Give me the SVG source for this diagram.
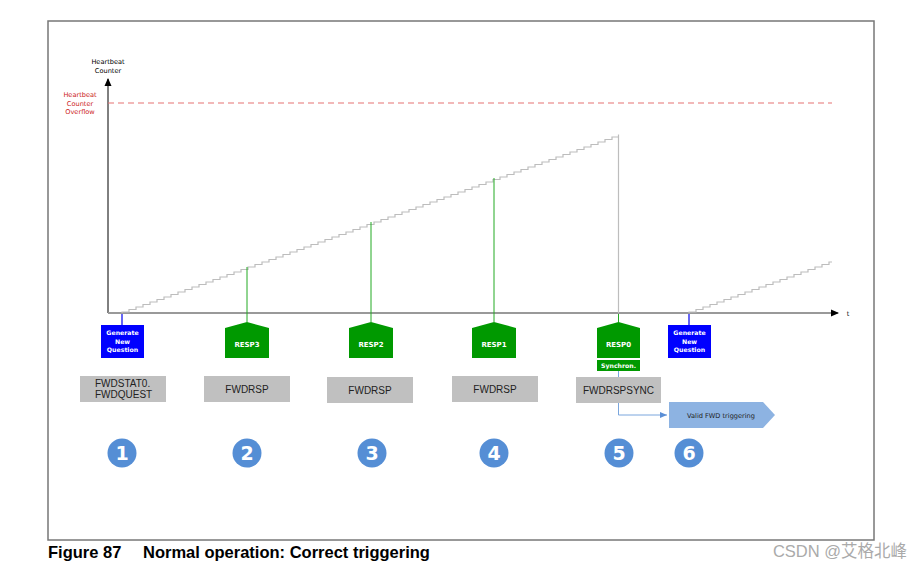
<svg xmlns="http://www.w3.org/2000/svg" width="923" height="570" viewBox="0 0 923 570">
<defs>
<style>
.lbl{font-family:"DejaVu Sans","Liberation Sans",sans-serif;font-size:6.6px;text-anchor:middle}
.wb{fill:#fff;font-weight:bold;font-size:6.2px}
.resp{fill:#009900}
.gbox{fill:#c0c0c0}
.gtxt{font-family:"Liberation Sans",Arial,sans-serif;font-size:10px;fill:#222;text-anchor:middle}
.num{fill:#558ed5}
.ntxt{font-family:"DejaVu Sans","Liberation Sans",sans-serif;font-size:19px;font-weight:bold;fill:#fff;text-anchor:middle}
.stair{fill:none;stroke:#bdbdbd;stroke-width:1.2}
.gl{stroke:#22aa22;stroke-width:1}
.bl{stroke:#0000ee;stroke-width:1.2}
</style>
<marker id="ah" markerWidth="8" markerHeight="8" refX="7" refY="4" orient="auto" markerUnits="userSpaceOnUse"><path d="M0,0.5 L8,4 L0,7.5 Z" fill="#000"/></marker>
<marker id="ahb" markerWidth="8" markerHeight="8" refX="7" refY="4" orient="auto" markerUnits="userSpaceOnUse"><path d="M0,1 L7,4 L0,7 Z" fill="#5b8fd6"/></marker>
</defs>
<rect width="923" height="570" fill="#fff"/>
<rect x="48" y="21" width="826" height="519" fill="none" stroke="#777" stroke-width="1.5"/>

<g id="axes">
<line x1="108" y1="313" x2="108" y2="79" stroke="#000" stroke-width="1" marker-end="url(#ah)"/>
<line x1="108" y1="313" x2="838" y2="313" stroke="#999" stroke-width="2" marker-end="url(#ah)"/>
<text x="848" y="316" class="lbl" fill="#000">t</text>
<text x="108" y="64" class="lbl" fill="#000">Heartbeat</text>
<text x="108" y="72.5" class="lbl" fill="#000">Counter</text>
<line x1="108" y1="103" x2="832" y2="103" stroke="#e57373" stroke-width="1.2" stroke-dasharray="6,4"/>
<text x="80" y="97" class="lbl" fill="#cc2222">Heartbeat</text>
<text x="80" y="105.5" class="lbl" fill="#cc2222">Counter</text>
<text x="80" y="114" class="lbl" fill="#cc2222">Overflow</text>
</g>

<g id="counter">
<path class="stair" d="M122,313 v-1
h7v-2.5 h7v-2.5 h7v-2.5 h7v-2.5 h7v-2.5 h7v-2.5 h7v-2.5 h7v-2.5 h7v-2.5 h7v-2.5
h7v-2.5 h7v-2.5 h7v-2.5 h7v-2.5 h7v-2.5 h7v-2.5 h7v-2.5 h7v-2.5 h7v-2.5 h7v-2.5
h7v-2.5 h7v-2.5 h7v-2.5 h7v-2.5 h7v-2.5 h7v-2.5 h7v-2.5 h7v-2.5 h7v-2.5 h7v-2.5
h7v-2.5 h7v-2.5 h7v-2.5 h7v-2.5 h7v-2.5 h7v-2.5 h7v-2.5 h7v-2.5 h7v-2.5 h7v-2.5
h7v-2.5 h7v-2.5 h7v-2.5 h7v-2.5 h7v-2.5 h7v-2.5 h7v-2.5 h7v-2.5 h7v-2.5 h7v-2.5
h7v-2.5 h7v-2.5 h7v-2.5 h7v-2.5 h7v-2.5 h7v-2.5 h7v-2.5 h7v-2.5 h7v-2.5 h7v-2.5
h7v-2.5 h7v-2.5 h7v-2.5 h7v-2.5 h7v-2.5 h7v-2.5 h7v-2.5 h7v-2.5 h7v-2.5 h7v-2.5
h6.5v-2.5 V313"/>
<path class="stair" d="M689,313 v-1
h7v-2.5 h7v-2.5 h7v-2.5 h7v-2.5 h7v-2.5 h7v-2.5 h7v-2.5 h7v-2.5 h7v-2.5 h7v-2.5
h7v-2.5 h7v-2.5 h7v-2.5 h7v-2.5 h7v-2.5 h7v-2.5 h7v-2.5 h7v-2.5 h7v-2.5 h7v-2.5
h3"/>
</g>

<g id="connectors">
<line class="bl" x1="122" y1="314" x2="122" y2="325"/>
<line class="bl" x1="689" y1="314" x2="689" y2="325"/>
<line class="gl" x1="247" y1="267" x2="247" y2="322"/>
<line class="gl" x1="371" y1="222" x2="371" y2="322"/>
<line class="gl" x1="494" y1="178" x2="494" y2="322"/>
<line class="gl" x1="618.5" y1="314" x2="618.5" y2="322"/>
<line x1="618.5" y1="371" x2="618.5" y2="377" stroke="#7aa6dd" stroke-width="1"/>
<path d="M618.5,403 V415 H667" fill="none" stroke="#7aa6dd" stroke-width="1" marker-end="url(#ahb)"/>
</g>

<g id="gnq1"><rect x="101" y="325" width="43" height="33" fill="#0000ff"/>
<text class="lbl wb" x="122.5" y="335">Generate</text><text class="lbl wb" x="122.5" y="343.5">New</text><text class="lbl wb" x="122.5" y="352">Question</text></g>
<g id="gnq2"><rect x="668" y="325" width="43" height="33" fill="#0000ff"/>
<text class="lbl wb" x="689.5" y="335">Generate</text><text class="lbl wb" x="689.5" y="343.5">New</text><text class="lbl wb" x="689.5" y="352">Question</text></g>

<g id="resp3"><path class="resp" d="M225,328 L247,322 L269,328 V358 H225 Z"/><text class="lbl wb" x="247" y="346.5" style="font-size:7px">RESP3</text></g>
<g id="resp2"><path class="resp" d="M349,328 L371,322 L393,328 V358 H349 Z"/><text class="lbl wb" x="371" y="346.5" style="font-size:7px">RESP2</text></g>
<g id="resp1"><path class="resp" d="M472,328 L494,322 L516,328 V358 H472 Z"/><text class="lbl wb" x="494" y="346.5" style="font-size:7px">RESP1</text></g>
<g id="resp0"><path class="resp" d="M597,328 L618.5,322 L640,328 V358 H597 Z"/><text class="lbl wb" x="618.5" y="346.5" style="font-size:7px">RESP0</text>
<rect class="resp" x="597" y="360" width="43" height="11"/><text class="lbl wb" x="618.5" y="368">Synchron.</text></g>

<g id="box1"><rect class="gbox" x="80" y="376" width="86" height="26"/><text class="gtxt" x="95" y="387" style="text-anchor:start">FWDSTAT0.</text><text class="gtxt" x="95" y="398" style="text-anchor:start">FWDQUEST</text></g>
<g id="box2"><rect class="gbox" x="204" y="376" width="86" height="26"/><text class="gtxt" x="247" y="393">FWDRSP</text></g>
<g id="box3"><rect class="gbox" x="327" y="377" width="86" height="26"/><text class="gtxt" x="370" y="393.5">FWDRSP</text></g>
<g id="box4"><rect class="gbox" x="452" y="376" width="86" height="26"/><text class="gtxt" x="495" y="392.5">FWDRSP</text></g>
<g id="box5"><rect class="gbox" x="576" y="377" width="85" height="26"/><text class="gtxt" x="618.5" y="393.5">FWDRSPSYNC</text></g>

<g id="valid"><path d="M669,402 H763 L775,415 L763,428 H669 Z" fill="#8db3e2"/><text class="lbl" x="721" y="417.5" fill="#222">Valid FWD triggering</text></g>

<g id="n1"><circle class="num" cx="122" cy="453" r="14.5"/><text class="ntxt" x="122" y="460">1</text></g>
<g id="n2"><circle class="num" cx="247" cy="453" r="14.5"/><text class="ntxt" x="247" y="460">2</text></g>
<g id="n3"><circle class="num" cx="372" cy="453" r="14.5"/><text class="ntxt" x="372" y="460">3</text></g>
<g id="n4"><circle class="num" cx="494" cy="453" r="14.5"/><text class="ntxt" x="494" y="460">4</text></g>
<g id="n5"><circle class="num" cx="619" cy="453" r="14.5"/><text class="ntxt" x="619" y="460">5</text></g>
<g id="n6"><circle class="num" cx="689" cy="453" r="14.5"/><text class="ntxt" x="689" y="460">6</text></g>

<text x="48" y="558" font-family="Liberation Sans,Arial,sans-serif" font-size="16.5" font-weight="bold" fill="#000">Figure 87</text>
<text x="143" y="558" font-family="Liberation Sans,Arial,sans-serif" font-size="16.5" font-weight="bold" fill="#000">Normal operation: Correct triggering</text>
<text x="907" y="557" font-family="Liberation Sans,'Noto Sans CJK SC',sans-serif" font-size="16.5" fill="#aaa" text-anchor="end">CSDN @艾格北峰</text>
</svg>
